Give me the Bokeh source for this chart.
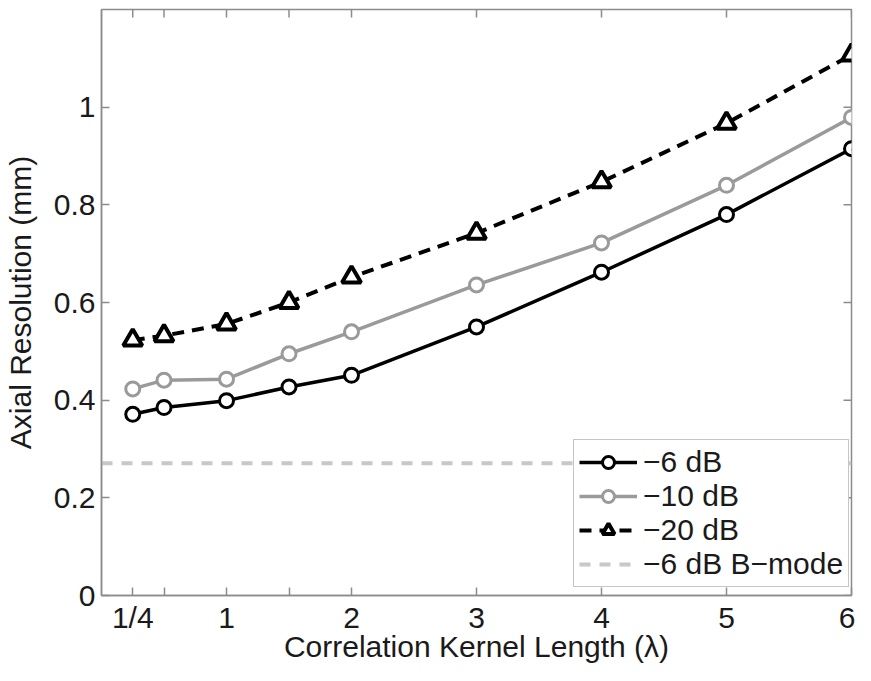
import math
from bokeh.plotting import figure
from bokeh.models import FixedTicker, Legend, LegendItem, Range1d
from bokeh.embed import file_html
from bokeh.resources import INLINE

# ---- data ----
kernel_length = [0.25, 0.5, 1, 1.5, 2, 3, 4, 5, 6]
res_6db = [0.371, 0.385, 0.399, 0.427, 0.451, 0.550, 0.662, 0.780, 0.915]
res_10db = [0.423, 0.441, 0.443, 0.495, 0.540, 0.636, 0.722, 0.840, 0.979]
res_20db = [0.523, 0.532, 0.556, 0.600, 0.652, 0.742, 0.847, 0.967, 1.107]
bmode_6db = 0.271
series_names = ["\u22126 dB", "\u221210 dB", "\u221220 dB", "\u22126 dB B\u2212mode"]
x_ticks = [0.25, 0.5, 1, 1.5, 2, 3, 4, 5, 6]
x_tick_labels = ["1/4", "", "1", "", "2", "3", "4", "5", "6"]
y_ticks = [0, 0.2, 0.4, 0.6, 0.8, 1.0]
y_tick_labels = ["0", "0.2", "0.4", "0.6", "0.8", "1"]
x_limits = [0, 6]
y_limits = [0, 1.2]

FONT = "Liberation Sans"
TXT = "#1a1a1a"
FRAME = "#8c8c8c"

p = figure(width=855, height=665, output_backend="svg", toolbar_location=None,
           x_range=Range1d(*x_limits), y_range=Range1d(*y_limits),
           min_border_left=101, min_border_right=4, min_border_top=9, min_border_bottom=60)
p.background_fill_color = "white"
p.border_fill_color = "white"
p.outline_line_color = FRAME
p.outline_line_width = 1.5
p.xgrid.visible = False
p.ygrid.visible = False

def style_axis(ax):
    ax.axis_line_color = FRAME
    ax.axis_line_width = 1.5
    ax.major_tick_line_color = FRAME
    ax.major_tick_line_width = 1.5
    ax.major_tick_in = 8
    ax.major_tick_out = 0
    ax.minor_tick_line_color = None
    ax.major_label_text_font = FONT
    ax.major_label_text_color = TXT
    ax.axis_label_text_font = FONT
    ax.axis_label_text_color = TXT
    ax.axis_label_text_font_style = "normal"

xa = p.xaxis[0]
xa.ticker = FixedTicker(ticks=x_ticks)
xa.major_label_overrides = dict(zip(x_ticks, x_tick_labels))
xa.axis_label = "Correlation Kernel Length (\u03bb)"
style_axis(xa)
xa.major_label_text_font_size = "30px"
xa.axis_label_text_font_size = "30px"
xa.major_label_standoff = 5
xa.axis_label_standoff = -7

ya = p.yaxis[0]
ya.ticker = FixedTicker(ticks=y_ticks)
ya.major_label_overrides = dict(zip(y_ticks, y_tick_labels))
ya.axis_label = "Axial Resolution (mm)"
style_axis(ya)
ya.major_label_text_font_size = "30px"
ya.axis_label_text_font_size = "30px"
ya.major_label_standoff = 6
ya.axis_label_standoff = 14

# inward ticks on the top and right edges of the box
p.ray(x=x_ticks, y=[y_limits[1]] * len(x_ticks), length=8, length_units="screen",
      angle=-math.pi / 2, line_color=FRAME, line_width=1.5)
p.ray(x=[x_limits[1]] * len(y_ticks), y=y_ticks, length=8, length_units="screen",
      angle=math.pi, line_color=FRAME, line_width=1.5)

# ---- series ----
r_bm = p.line(x_limits, [bmode_6db, bmode_6db], line_color="#c8c8c8", line_width=4, line_dash="11 9")

l6 = p.line(kernel_length, res_6db, line_color="black", line_width=3.5)
m6 = p.scatter(kernel_length, res_6db, marker="circle", size=14, fill_color="white",
               line_color="black", line_width=3)

l10 = p.line(kernel_length, res_10db, line_color="#9a9a9a", line_width=3.5)
m10 = p.scatter(kernel_length, res_10db, marker="circle", size=14, fill_color="white",
                line_color="#9a9a9a", line_width=3)

l20 = p.line(kernel_length, res_20db, line_color="black", line_width=4, line_dash="12 8")
m20 = p.scatter(kernel_length, res_20db, marker="triangle", size=19, fill_color="white",
                line_color="black", line_width=4)

legend = Legend(items=[
    LegendItem(label=series_names[0], renderers=[l6, m6]),
    LegendItem(label=series_names[1], renderers=[l10, m10]),
    LegendItem(label=series_names[2], renderers=[l20, m20]),
    LegendItem(label=series_names[3], renderers=[r_bm]),
], location=(472, 8))
legend.label_text_font = FONT
legend.label_text_font_size = "30px"
legend.label_text_color = TXT
legend.glyph_width = 58
legend.glyph_height = 30
legend.label_height = 30
legend.label_standoff = 6
legend.spacing = 0
legend.padding = 5
legend.margin = 0
legend.border_line_color = FRAME
legend.border_line_width = 1.5
legend.background_fill_alpha = 1
p.add_layout(legend, "center")

open("out.html", "w").write(file_html(p, INLINE))
